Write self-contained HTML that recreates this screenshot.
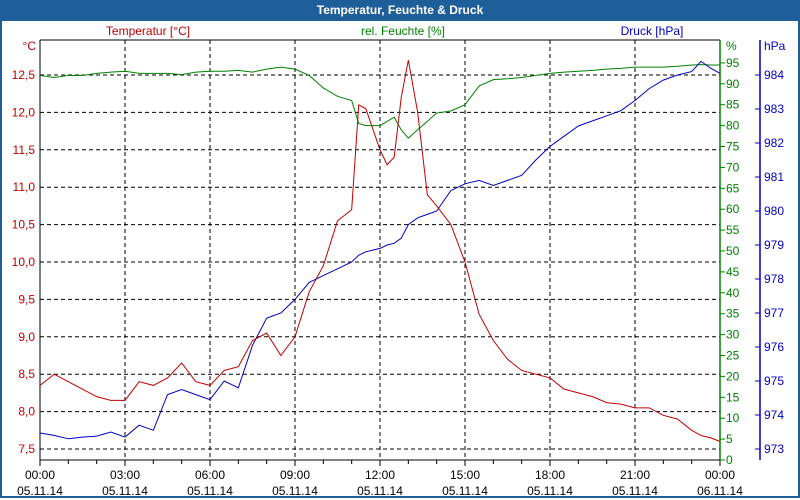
<!DOCTYPE html>
<html><head><meta charset="utf-8"><style>
body{margin:0;width:800px;height:500px;overflow:hidden;background:#fff;font-family:"Liberation Sans","DejaVu Sans",sans-serif}
#frame{position:absolute;left:0;top:0;width:796px;height:496px;border:2px solid #1f5f99;border-top:none}
#title{position:absolute;left:0;top:0;width:800px;height:21px;background:#1f5f99;color:#fff;font-weight:bold;font-size:12px;text-align:center;line-height:21px}
svg{position:absolute;left:0;top:0}
</style></head><body>
<div id="frame"></div>
<div id="title">Temperatur, Feuchte &amp; Druck</div>
<svg id="c" width="800" height="500"></svg>
<script>
const hours=[0,0.5,1,1.5,2,2.5,3,3.5,4,4.5,5,5.5,6,6.5,7,7.5,8,8.5,9,9.5,10,10.5,11,11.25,11.5,12,12.25,12.5,12.75,13,13.33,13.67,14,14.5,15,15.5,16,16.5,17,17.5,18,18.5,19,19.5,20,20.5,21,21.5,22,22.5,23,23.33,23.67,24];
const temp=[8.35,8.5,8.4,8.3,8.2,8.15,8.15,8.4,8.35,8.45,8.65,8.4,8.35,8.55,8.6,8.95,9.05,8.75,9.0,9.6,9.95,10.55,10.7,12.1,12.05,11.5,11.3,11.4,12.2,12.7,12.0,10.9,10.75,10.5,10.0,9.3,8.95,8.7,8.55,8.5,8.45,8.3,8.25,8.2,8.12,8.1,8.05,8.05,7.95,7.9,7.75,7.68,7.65,7.6];
const hum=[92,91.5,92,92,92.5,92.8,93,92.5,92.5,92.5,92.2,92.8,93,93,93.2,92.8,93.5,94,93.5,92,89,87,86,80.5,80,80,81,82,79,77,79,81,83,83.5,85,89.5,91,91.2,91.5,92,92.5,92.8,93,93.2,93.5,93.7,94,94,94,94.2,94.5,94.6,94.5,94.5];
const press=[973.47,973.4,973.3,973.35,973.38,973.5,973.35,973.7,973.55,974.6,974.75,974.6,974.45,975.0,974.8,976.05,976.85,977.0,977.4,977.9,978.1,978.3,978.5,978.7,978.8,978.9,979.0,979.05,979.2,979.6,979.8,979.9,980.0,980.6,980.8,980.9,980.75,980.9,981.05,981.5,981.9,982.2,982.5,982.65,982.8,982.95,983.25,983.6,983.85,984.0,984.1,984.4,984.2,984.05];
const tTicks=[7.5,8,8.5,9,9.5,10,10.5,11,11.5,12,12.5];
const hTicks=[0,5,10,15,20,25,30,35,40,45,50,55,60,65,70,75,80,85,90,95];
const pTicks=[973,974,975,976,977,978,979,980,981,982,983,984];
const xTicks=["00:00","03:00","06:00","09:00","12:00","15:00","18:00","21:00","00:00"];
const xDates=["05.11.14","05.11.14","05.11.14","05.11.14","05.11.14","05.11.14","05.11.14","05.11.14","06.11.14"];
const L=40,R=720,T=40,B=460;
const X=h=>L+h*(R-L)/24;
const YT=t=>449-(t-7.5)*74.8;
const YH=v=>460-v*4.18;
const YP=p=>75+(984-p)*34;
const s=document.getElementById('c');const NS="http://www.w3.org/2000/svg";
function el(tag,a,txt){const e=document.createElementNS(NS,tag);for(const k in a)e.setAttribute(k,a[k]);if(txt!==undefined)e.textContent=txt;s.appendChild(e);return e;}
// grid
for(let i=1;i<8;i++){const g=el('line',{x1:X(i*3),x2:X(i*3),y1:T,y2:B,stroke:'#000','stroke-dasharray':'4,3'});

}
tTicks.forEach(t=>{const g=el('line',{x1:L,x2:R,y1:YT(t),y2:YT(t),stroke:'#000','stroke-dasharray':'4,3'});


const lb=el('text',{x:35,y:YT(t)+4,'text-anchor':'end','font-size':12,fill:'#c00000'},t.toFixed(1).replace('.',','));

});
// axes
el('line',{x1:L,x2:L,y1:T,y2:B,stroke:'#000'});
el('line',{x1:L,x2:R,y1:T,y2:T,stroke:'#000'});
el('line',{x1:L,x2:R,y1:B,y2:B,stroke:'#000'});
el('line',{x1:R,x2:R,y1:T,y2:B,stroke:'#008000','stroke-width':1.5});
el('line',{x1:760,x2:760,y1:T,y2:B,stroke:'#0000c0','stroke-width':1.5});
for(let h=0;h<=24;h++){el('line',{x1:X(h),x2:X(h),y1:B,y2:B+(h%3?4:6),stroke:'#000'});}
hTicks.forEach(v=>{el('line',{x1:R,x2:R+5,y1:YH(v),y2:YH(v),stroke:'#008000'});
const lb=el('text',{x:726,y:YH(v)+4,'font-size':12,fill:'#008000'},String(v));

});
pTicks.forEach(p=>{el('line',{x1:755,x2:760,y1:YP(p),y2:YP(p),stroke:'#0000c0'});
const lb=el('text',{x:764,y:YP(p)+4,'font-size':12,fill:'#0000c0'},String(p));

});
xTicks.forEach((t,i)=>{const a=el('text',{x:X(i*3),y:479,'text-anchor':'middle','font-size':12,fill:'#000'},t);


const b=el('text',{x:X(i*3),y:495,'text-anchor':'middle','font-size':12,fill:'#000'},xDates[i]);

});
// titles
[[148,'#c00000','Temperatur [°C]','temp-axis-title'],[403,'#008000','rel. Feuchte [%]','humidity-axis-title'],[652,'#0000c0','Druck [hPa]','pressure-axis-title']].forEach(d=>{const e=el('text',{x:d[0],y:35,'text-anchor':'middle','font-size':12,fill:d[1]},d[2]);

});
let u=el('text',{x:36,y:50,'text-anchor':'end','font-size':12,fill:'#c00000'},'°C');
u=el('text',{x:726,y:50,'font-size':12,fill:'#008000'},'%');
u=el('text',{x:764,y:50,'font-size':12,fill:'#0000c0'},'hPa');
// series
function line(vals,fy,col,name){const p=el('polyline',{points:vals.map((v,i)=>X(hours[i])+','+fy(v)).join(' '),fill:'none',stroke:col,'stroke-width':1});

}
line(hum,YH,'#008000','humidity-line');
line(press,YP,'#0000c0','pressure-line');
line(temp,YT,'#c00000','temperature-line');
</script>
</body></html>
